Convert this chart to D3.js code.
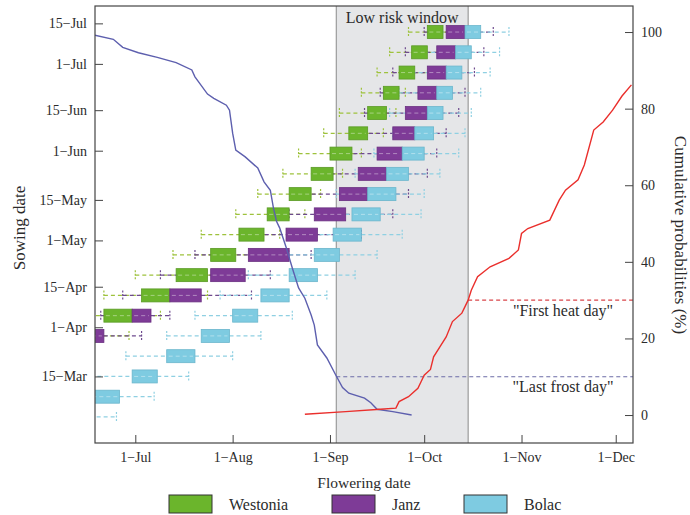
<!DOCTYPE html>
<html><head><meta charset="utf-8">
<script src="https://cdn.jsdelivr.net/npm/d3@7"></script>
<style>
body{margin:0;background:#fff}
svg{display:block}
text{font-family:"Liberation Serif","Times New Roman",serif;fill:#2b2b2b}
</style>
</head><body>
<svg id="chart" width="690" height="515"></svg>
<script>
// ---------------- DATA ----------------
const seriesNames = ["Westonia", "Janz", "Bolac"];
const sowingDates = ["03-01","03-08","03-15","03-22","03-29","04-05","04-12","04-19","04-26","05-03",
                     "05-10","05-17","05-24","05-31","06-07","06-14","06-21","06-28","07-05","07-12"];
// flowering date box plots: [whisker min, Q1, Q3, whisker max]
const westonia = [
  ["05-10","05-17","05-24","06-05"],["05-15","05-22","05-29","06-10"],["05-22","05-29","06-05","06-14"],
  ["05-29","06-05","06-10","06-15"],["06-01","06-08","06-14","06-29"],["06-14","06-21","06-30","07-09"],
  ["06-21","07-03","07-12","07-24"],["07-01","07-14","07-24","07-26"],["07-13","07-25","08-02","08-07"],
  ["07-22","08-03","08-11","08-16"],["08-02","08-12","08-19","08-24"],["08-09","08-19","08-26","08-29"],
  ["08-17","08-26","09-02","09-05"],["08-22","09-01","09-08","09-11"],["08-30","09-07","09-13","09-18"],
  ["09-04","09-13","09-19","09-22"],["09-11","09-18","09-23","09-25"],["09-16","09-23","09-28","10-04"],
  ["09-20","09-27","10-02","10-09"],["09-26","10-02","10-07","10-16"]
];
const janz = [
  ["05-15","05-22","05-29","06-10"],["05-20","05-27","06-03","06-14"],["05-27","06-03","06-10","06-16"],
  ["06-01","06-07","06-12","06-16"],["06-05","06-12","06-21","07-03"],["06-20","06-30","07-06","07-12"],
  ["06-27","07-12","07-22","08-07"],["07-09","07-25","08-05","08-13"],["07-20","08-06","08-19","08-26"],
  ["08-09","08-18","08-28","09-11"],["08-19","08-27","09-06","09-21"],["08-24","09-04","09-13","09-26"],
  ["08-30","09-10","09-19","10-02"],["09-04","09-16","09-24","10-05"],["09-09","09-21","09-28","10-08"],
  ["09-12","09-25","10-02","10-12"],["09-17","09-29","10-05","10-14"],["09-21","10-02","10-08","10-17"],
  ["09-25","10-05","10-11","10-20"],["10-01","10-08","10-14","10-23"]
];
const bolac = [
  ["06-01","06-05","06-12","06-25"],["06-05","06-10","06-26","07-07"],["06-10","06-30","07-08","07-18"],
  ["06-28","07-11","07-20","08-01"],["07-11","07-22","07-31","08-10"],["07-20","08-01","08-09","08-20"],
  ["07-28","08-10","08-19","08-31"],["08-06","08-19","08-28","09-09"],["08-19","08-27","09-04","09-16"],
  ["08-22","09-02","09-11","09-24"],["08-28","09-08","09-17","09-30"],["09-03","09-13","09-22","10-01"],
  ["09-09","09-19","09-26","10-06"],["09-15","09-24","10-01","10-12"],["09-21","09-28","10-04","10-14"],
  ["09-20","10-02","10-07","10-16"],["09-23","10-05","10-10","10-19"],["09-27","10-08","10-13","10-22"],
  ["10-01","10-11","10-16","10-25"],["10-06","10-14","10-19","10-28"]
];
// cumulative probability curves [date, %]
const frostCurve = [
  ["06-18",99.2],["06-24",98.1],["06-27",96.0],["07-02",94.6],["07-08",93.4],["07-14",92.0],["07-19",90.1],
  ["07-20",88.3],["07-24",83.8],["07-26",82.7],["07-30",80.9],["07-31",79.6],["08-01",73.6],["08-02",69.2],
  ["08-05",67.4],["08-09",64.5],["08-11",60.9],["08-13",58.7],["08-14",54.0],["08-15",50.5],["08-16",48.8],
  ["08-18",43.9],["08-20",38.4],["08-22",33.2],["08-24",30.5],["08-26",26.1],["08-27",23.5],["08-28",18.3],
  ["08-31",14.9],["09-03",10.2],["09-05",7.2],["09-07",5.7],["09-12",4.4],["09-14",3.2],["09-16",1.5],
  ["09-21",0.9],["09-27",0.0]
];
const heatCurve = [
  ["08-24",0.2],["09-06",0.9],["09-17",1.5],["09-22",1.8],["09-23",3.5],["09-26",4.8],["09-29",7.0],
  ["09-30",8.7],["10-01",10.4],["10-03",11.9],["10-04",15.2],["10-06",17.8],["10-08",20.4],["10-10",24.4],
  ["10-13",26.6],["10-15",30.0],["10-16",32.6],["10-18",36.1],["10-22",38.7],["10-28",40.9],["10-31",43.1],
  ["11-01",47.4],["11-03",48.7],["11-10",50.9],["11-13",56.1],["11-15",58.7],["11-19",61.4],["11-21",65.3],
  ["11-24",74.4],["11-27",76.5],["11-30",79.6],["12-03",83.3],["12-06",86.2]
];
const lowRiskWindow = ["09-03","10-15"];
const lastFrostProb = 10, firstHeatProb = 30;
const xTickDates = ["07-01","08-01","09-01","10-01","11-01","12-01"];
const xTickLabels = ["1\u2212Jul","1\u2212Aug","1\u2212Sep","1\u2212Oct","1\u2212Nov","1\u2212Dec"];
const yTickDates = ["03-15","04-01","04-15","05-01","05-15","06-01","06-15","07-01","07-15"];
const yTickLabels = ["15\u2212Mar","1\u2212Apr","15\u2212Apr","1\u2212May","15\u2212May","1\u2212Jun","15\u2212Jun","1\u2212Jul","15\u2212Jul"];
const probTicks = [0,20,40,60,80,100];

// ---------------- STYLE ----------------
const fills = ["#6bb52c", "#7e3b97", "#7ecbe1"];
const edges = ["#5a9a25", "#6a2f80", "#6bb6cc"];
const whiskerCols = ["#9ec23c", "#6e4a8e", "#8fd0e2"];

const pd = s => { const [m, d] = s.split("-").map(Number); return new Date(2001, m - 1, d); };
const M = {l: 95, r: 633, t: 6, b: 443};
const svg = d3.select("#chart");

const x = d3.scaleTime().domain([new Date(2001,5,18,4), new Date(2001,11,6,12)]).range([M.l, M.r]);
const y = d3.scaleTime().domain([new Date(2001,1,20), new Date(2001,6,21)]).range([M.b, M.t]);
const yp = d3.scaleLinear().domain([-7.3, 106.8]).range([M.b, M.t]);

svg.append("defs").append("clipPath").attr("id","clip")
  .append("rect").attr("x",M.l).attr("y",M.t).attr("width",M.r-M.l).attr("height",M.b-M.t);

const plot = svg.append("g").attr("clip-path","url(#clip)");

// low risk window
const wx0 = x(pd(lowRiskWindow[0])), wx1 = x(pd(lowRiskWindow[1]));
plot.append("rect").attr("x",wx0).attr("y",M.t).attr("width",wx1-wx0).attr("height",M.b-M.t)
  .attr("fill","#e5e6e8");
[wx0, wx1].forEach(v => plot.append("line").attr("x1",v).attr("x2",v).attr("y1",M.t).attr("y2",M.b)
  .attr("stroke","#8a8a8a").attr("stroke-width",1));

// box plots
const allSeries = [westonia, janz, bolac];
const bh = 13;
const wg = plot.append("g"), bg = plot.append("g");
allSeries.forEach((ser, si) => {
  ser.forEach((r, ri) => {
    const cy = y(pd(sowingDates[ri]));
    const [mn, q1, q3, mx] = r.map(pd).map(x);
    [[mn, q1], [q3, mx]].forEach(([a, b]) => wg.append("line")
      .attr("x1",a).attr("x2",b).attr("y1",cy).attr("y2",cy)
      .attr("stroke",whiskerCols[si]).attr("stroke-width",1.3).attr("stroke-dasharray","4,3"));
    [mn, mx].forEach(v => wg.append("line")
      .attr("x1",v).attr("x2",v).attr("y1",cy-5).attr("y2",cy+5)
      .attr("stroke",whiskerCols[si]).attr("stroke-width",1.2).attr("stroke-dasharray","2,1.5"));
    bg.append("rect").attr("x",q1).attr("y",cy-bh/2).attr("width",Math.max(0,q3-q1)).attr("height",bh)
      .attr("fill",fills[si]).attr("stroke",edges[si]).attr("stroke-width",0.8);
    bg.append("line").attr("x1",q1+2).attr("x2",q3-2).attr("y1",cy).attr("y2",cy)
      .attr("stroke","#fff").attr("stroke-opacity",0.4).attr("stroke-width",1).attr("stroke-dasharray","4,3");
  });
});

// reference dashed lines
plot.append("line").attr("x1",x(pd(lowRiskWindow[0]))).attr("x2",M.r)
  .attr("y1",yp(lastFrostProb)).attr("y2",yp(lastFrostProb))
  .attr("stroke","#6c6ca6").attr("stroke-width",1.2).attr("stroke-dasharray","4,3");
plot.append("line").attr("x1",x(pd(lowRiskWindow[1]))).attr("x2",M.r)
  .attr("y1",yp(firstHeatProb)).attr("y2",yp(firstHeatProb))
  .attr("stroke","#d9454a").attr("stroke-width",1.2).attr("stroke-dasharray","4,3");

// curves
const line = d3.line().x(d => x(pd(d[0]))).y(d => yp(d[1]));
plot.append("path").datum(frostCurve).attr("d",line).attr("fill","none")
  .attr("stroke","#5d5fae").attr("stroke-width",1.4);
plot.append("path").datum(heatCurve).attr("d",line).attr("fill","none")
  .attr("stroke","#ea2f2c").attr("stroke-width",1.4);

// annotations
svg.append("text").attr("x",(wx0+wx1)/2).attr("y",23).attr("text-anchor","middle")
  .style("font-size","16px").text("Low risk window");
svg.append("text").attr("x",563).attr("y",316).attr("text-anchor","middle")
  .style("font-size","16px").text("\"First heat day\"");
svg.append("text").attr("x",563).attr("y",392).attr("text-anchor","middle")
  .style("font-size","16px").text("\"Last frost day\"");

// axes
const styleAxis = g => { g.select(".domain").remove();
  g.selectAll(".tick line").attr("stroke","#444");
  g.selectAll(".tick text").attr("fill","#2b2b2b").style("font-family","'Liberation Serif',serif").style("font-size","14px"); };
svg.append("g").attr("transform",`translate(0,${M.b})`)
  .call(d3.axisBottom(x).tickValues(xTickDates.map(pd)).tickFormat((d,i)=>xTickLabels[i])
    .tickSizeInner(-8).tickSizeOuter(0).tickPadding(9)).call(styleAxis);
svg.append("g").attr("transform",`translate(${M.l},0)`)
  .call(d3.axisLeft(y).tickValues(yTickDates.map(pd)).tickFormat((d,i)=>yTickLabels[i])
    .tickSizeInner(-8).tickSizeOuter(0).tickPadding(8)).call(styleAxis);
svg.append("g").attr("transform",`translate(${M.r},0)`)
  .call(d3.axisRight(yp).tickValues(probTicks).tickFormat(d3.format("d"))
    .tickSizeInner(-8).tickSizeOuter(0).tickPadding(8)).call(styleAxis);

// frame
svg.append("rect").attr("x",M.l).attr("y",M.t).attr("width",M.r-M.l).attr("height",M.b-M.t)
  .attr("fill","none").attr("stroke","#444").attr("stroke-width",1.2);

// titles
svg.append("text").attr("transform","translate(25,228) rotate(-90)").attr("text-anchor","middle")
  .style("font-size","17px").text("Sowing date");
svg.append("text").attr("transform","translate(675,235) rotate(90)").attr("text-anchor","middle")
  .style("font-size","17px").text("Cumulative probabilities (%)");
svg.append("text").attr("x",364).attr("y",488).attr("text-anchor","middle")
  .style("font-size","15.5px").text("Flowering date");

// legend
const legX = [169, 332, 464];
seriesNames.forEach((n, i) => {
  svg.append("rect").attr("x",legX[i]).attr("y",495).attr("width",43).attr("height",18)
    .attr("fill",fills[i]).attr("stroke","#333").attr("stroke-width",1);
  svg.append("text").attr("x",legX[i]+60).attr("y",510).style("font-size","16px").text(n);
});
</script>
</body></html>
